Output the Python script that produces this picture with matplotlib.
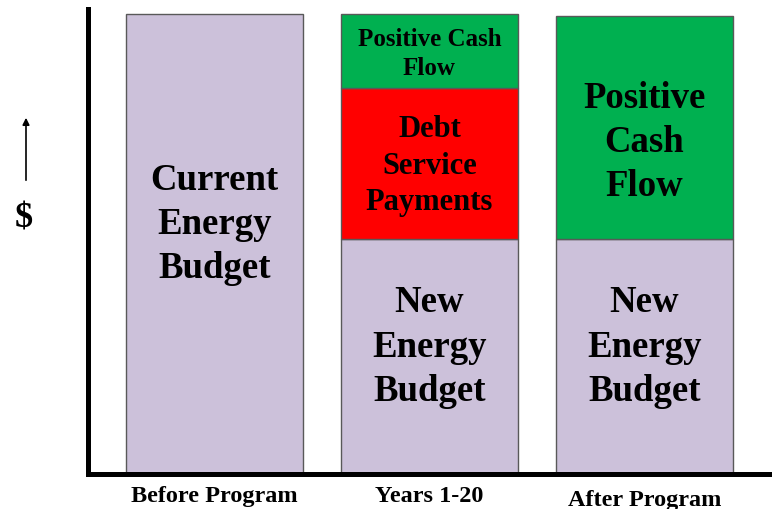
import matplotlib.pyplot as plt
import numpy as np

plt.rcParams['font.family'] = ['Liberation Serif', 'DejaVu Serif']
plt.rcParams['font.weight'] = 'bold'

categories = ["Before Program", "Years 1-20", "After Program"]
new_budget = [100, 51, 51]      # lavender base segment
debt_service = [0, 33, 0]       # red segment
positive_cash = [0, 16, 48.5]   # green top segment

purple = '#CCC1DA'
red = '#FF0000'
green = '#00B050'
edge = '#595959'

fig = plt.figure(figsize=(7.72, 5.10), dpi=100)
ax = fig.add_axes([88 / 772, 35 / 510, 684 / 772, 465 / 510])

x = np.arange(len(categories))
w = 0.82
new_budget = np.array(new_budget)
debt_service = np.array(debt_service)
positive_cash = np.array(positive_cash)

ax.bar(x, new_budget, width=w, color=purple, edgecolor=edge, linewidth=1)
ax.bar(x[1], debt_service[1], bottom=new_budget[1], width=w, color=red,
       edgecolor=edge, linewidth=1)
ax.bar(x[1:], positive_cash[1:], bottom=(new_budget + debt_service)[1:], width=w,
       color=green, edgecolor=edge, linewidth=1)

ax.set_xlim(-0.588, 2.593)
ax.set_ylim(0, 101.1)

# text inside the segments
big = 26.5
ax.text(x[0], new_budget[0] * 0.545, "Current\nEnergy\nBudget", ha='center',
        va='center', fontsize=big, linespacing=1.34)
for xi in x[1:]:
    ax.text(xi, new_budget[xi] * 0.545, "New\nEnergy\nBudget", ha='center',
            va='center', fontsize=big, linespacing=1.34)
ax.text(x[1], new_budget[1] + debt_service[1] * 0.49, "Debt\nService\nPayments",
        ha='center', va='center', fontsize=22, linespacing=1.34)
ax.text(x[1], new_budget[1] + debt_service[1] + positive_cash[1] * 0.47,
        "Positive Cash\nFlow", ha='center', va='center', fontsize=18,
        linespacing=1.34)
ax.text(x[2], new_budget[2] + positive_cash[2] * 0.44, "Positive\nCash\nFlow",
        ha='center', va='center', fontsize=big, linespacing=1.34)

# category labels under the axis
ax.set_xticks([])
ax.set_yticks([])
label_y = [-4.7, -4.7, -5.6]
for xi, lab, ly in zip(x, categories, label_y):
    ax.text(xi, ly, lab, ha='center', va='center', fontsize=17.5, clip_on=False)

for s in ['top', 'right']:
    ax.spines[s].set_visible(False)
for s in ['left', 'bottom']:
    ax.spines[s].set_linewidth(3.6)
    ax.spines[s].set_color('black')

# "$" with an up arrow on the left
fig.patches.append(plt.matplotlib.patches.FancyArrowPatch(
    (26 / 772, 1 - 184 / 510), (26 / 772, 1 - 116 / 510),
    transform=fig.transFigure, arrowstyle='-|>', mutation_scale=10,
    color='black', linewidth=1.2))
fig.text(24 / 772, 1 - 219 / 510, "$", ha='center', va='center', fontsize=26)

fig.savefig('out.png', dpi=100)
